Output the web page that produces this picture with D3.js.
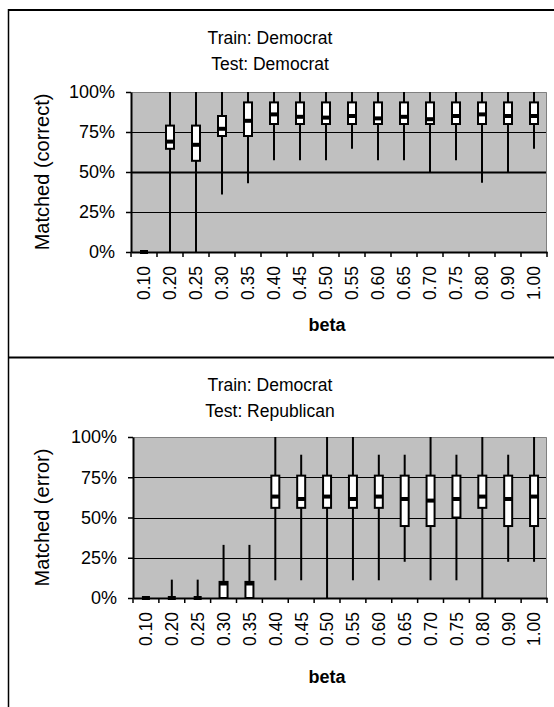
<!DOCTYPE html>
<html>
<head>
  <meta charset="utf-8">
  <script src="https://d3js.org/d3.v7.min.js"></script>
  <style type="text/css">
    body {
      margin: 0;
      background-color: #ffffff;
      font-family: 'Liberation Sans', Arial, sans-serif;
    }
    svg text {
      fill: #000000;
    }
  </style>
</head>
<body>
<div id="chart"></div>

<script>
  // beta values on the x axis
  var betaLabels = ["0.10", "0.20", "0.25", "0.30", "0.35", "0.40", "0.45", "0.50",
                    "0.55", "0.60", "0.65", "0.70", "0.75", "0.80", "0.90", "1.00"];
  var yTicks = [0, 0.25, 0.5, 0.75, 1];

  // top chart: Train Democrat / Test Democrat (matched correct)
  var corrMax = [0, 1, 1, 1, 1, 1, 1, 1, 1, 1, 1, 1, 1, 1, 1, 1];
  var corrQ3  = [0, 0.79, 0.79, 0.85, 0.935, 0.935, 0.935, 0.935, 0.935, 0.935, 0.935, 0.935, 0.935, 0.935, 0.935, 0.935];
  var corrMed = [0, 0.69, 0.67, 0.77, 0.82, 0.86, 0.845, 0.84, 0.85, 0.835, 0.845, 0.83, 0.85, 0.86, 0.85, 0.85];
  var corrQ1  = [0, 0.645, 0.57, 0.725, 0.725, 0.80, 0.80, 0.80, 0.80, 0.80, 0.80, 0.80, 0.80, 0.80, 0.80, 0.80];
  var corrMin = [0, 0, 0, 0.36, 0.43, 0.573, 0.573, 0.573, 0.646, 0.573, 0.573, 0.50, 0.573, 0.433, 0.50, 0.646];

  // bottom chart: Train Democrat / Test Republican (matched error)
  var errMax = [0, 0.114, 0.114, 0.33, 0.33, 1, 0.89, 1, 1, 0.89, 0.89, 1, 0.89, 1, 0.89, 1];
  var errQ3  = [0, 0, 0, 0.10, 0.10, 0.76, 0.76, 0.76, 0.76, 0.76, 0.76, 0.76, 0.76, 0.76, 0.76, 0.76];
  var errMed = [0, 0, 0, 0.09, 0.09, 0.63, 0.615, 0.63, 0.615, 0.63, 0.615, 0.605, 0.615, 0.63, 0.615, 0.63];
  var errQ1  = [0, 0, 0, 0, 0, 0.56, 0.56, 0.56, 0.56, 0.56, 0.447, 0.447, 0.50, 0.56, 0.447, 0.447];
  var errMin = [0, 0, 0, 0, 0, 0.11, 0.11, 0, 0.11, 0.11, 0.225, 0.11, 0.11, 0, 0.225, 0.225];

  var svg = d3.select("#chart").append("svg").attr("width", 554).attr("height", 707);

  // outer frames of the two charts
  svg.append("line").attr("x1", 8).attr("x2", 554).attr("y1", 10).attr("y2", 10)
    .attr("stroke", "black").attr("stroke-width", 2);
  svg.append("line").attr("x1", 8.5).attr("x2", 8.5).attr("y1", 9).attr("y2", 707)
    .attr("stroke", "black").attr("stroke-width", 1.5);
  svg.append("line").attr("x1", 9).attr("x2", 554).attr("y1", 357.5).attr("y2", 357.5)
    .attr("stroke", "black").attr("stroke-width", 2);

  function toRows(mins, q1s, meds, q3s, maxs) {
    return betaLabels.map(function (b, i) {
      return {beta: b, min: mins[i], q1: q1s[i], med: meds[i], q3: q3s[i], max: maxs[i]};
    });
  }

  function drawPanel(p) {
    var x = d3.scaleBand().domain(betaLabels).range([p.left, p.right]);
    var y = d3.scaleLinear().domain([0, 1]).range([p.bottom, p.top]);
    var g = svg.append("g");

    // titles
    g.selectAll(".title").data(p.titles).enter().append("text")
      .attr("x", p.titleX).attr("y", function (d, i) { return p.titleY + i * 26; })
      .attr("text-anchor", "middle").style("font-size", "17.5px").text(function (d) { return d; });

    // plot area
    g.append("rect").attr("x", p.left).attr("y", p.top)
      .attr("width", p.right - p.left).attr("height", p.bottom - p.top).attr("fill", "#c0c0c0");
    g.append("path")
      .attr("d", "M" + p.left + "," + (p.top + 0.5) + "H" + (p.right - 0.5) + "V" + p.bottom)
      .attr("fill", "none").attr("stroke", "#808080").attr("stroke-width", 1);

    // gridlines
    g.selectAll(".grid").data([0.25, 0.5, 0.75]).enter().append("line")
      .attr("x1", p.left).attr("x2", p.right - 1)
      .attr("y1", function (d) { return Math.round(y(d)) + 0.5; })
      .attr("y2", function (d) { return Math.round(y(d)) + 0.5; })
      .attr("stroke", "black")
      .attr("stroke-width", function (d) { return d == 0.5 ? p.midGrid : 1; });

    // y axis
    var yAxis = g.append("g").attr("transform", "translate(" + p.left + ",0)")
      .call(d3.axisLeft(y).tickValues(yTicks).tickFormat(d3.format(".0%")).tickSize(5).tickSizeOuter(0));
    yAxis.select(".domain").attr("stroke-width", 2);
    yAxis.selectAll(".tick line").attr("stroke-width", 1.5);
    yAxis.selectAll("text").attr("x", -16).style("font-size", "18px").style("font-family", "'Liberation Sans', Arial, sans-serif");

    // x axis: labels at band centres, ticks at band edges
    var xAxis = g.append("g").attr("transform", "translate(0," + p.bottom + ")")
      .call(d3.axisBottom(x).tickSize(0).tickSizeOuter(0));
    xAxis.select(".domain").attr("stroke-width", 2);
    xAxis.selectAll("text")
      .attr("transform", "rotate(-90)").attr("text-anchor", "end")
      .attr("x", -14).attr("y", 0).attr("dy", "0.36em")
      .style("font-size", "17.5px").style("font-family", "'Liberation Sans', Arial, sans-serif");
    g.selectAll(".xtick").data(d3.range(betaLabels.length + 1)).enter().append("line")
      .attr("x1", function (i) { return p.left + i * x.step(); })
      .attr("x2", function (i) { return p.left + i * x.step(); })
      .attr("y1", p.bottom).attr("y2", p.bottom + 5)
      .attr("stroke", "black").attr("stroke-width", 1.5);

    // axis titles
    g.append("text").attr("transform", "translate(" + p.ylabelX + "," + ((p.top + p.bottom) / 2) + ") rotate(-90)")
      .attr("text-anchor", "middle").attr("dy", "0.35em").style("font-size", "20px").text(p.ylabel);
    g.append("text").attr("x", p.betaX).attr("y", p.betaY).attr("dy", "0.35em")
      .attr("text-anchor", "middle").style("font-size", "18px").style("font-weight", "bold").text("beta");

    // boxes
    var cx = function (d) { return x(d.beta) + x.bandwidth() / 2; };
    var boxes = g.selectAll(".box").data(p.rows).enter().append("g");
    boxes.append("line")
      .attr("x1", cx).attr("x2", cx)
      .attr("y1", function (d) { return y(d.min); }).attr("y2", function (d) { return y(d.max); })
      .attr("stroke", "black").attr("stroke-width", 2);
    boxes.append("rect")
      .attr("x", function (d) { return cx(d) - 4; }).attr("width", 8)
      .attr("y", function (d) { return y(d.q3); })
      .attr("height", function (d) { return y(d.q1) - y(d.q3); })
      .attr("fill", "white").attr("stroke", "black").attr("stroke-width", 2);
    boxes.append("rect")
      .attr("x", function (d) { return cx(d) - 4; }).attr("width", 8)
      .attr("y", function (d) { return y(d.med) - 2; }).attr("height", 4)
      .attr("fill", "black");

    // axis lines on top of boxes
    yAxis.raise();
    xAxis.raise();
  }

  drawPanel({
    left: 131, right: 547, top: 92, bottom: 252,
    titles: ["Train: Democrat", "Test: Democrat"], titleX: 270, titleY: 44,
    ylabel: "Matched (correct)", ylabelX: 42,
    betaX: 327, betaY: 325, midGrid: 2,
    rows: toRows(corrMin, corrQ1, corrMed, corrQ3, corrMax)
  });

  drawPanel({
    left: 133, right: 547, top: 437, bottom: 598,
    titles: ["Train: Democrat", "Test: Republican"], titleX: 270, titleY: 391,
    ylabel: "Matched (error)", ylabelX: 42,
    betaX: 327, betaY: 677, midGrid: 1,
    rows: toRows(errMin, errQ1, errMed, errQ3, errMax)
  });
</script>

</body>
</html>
